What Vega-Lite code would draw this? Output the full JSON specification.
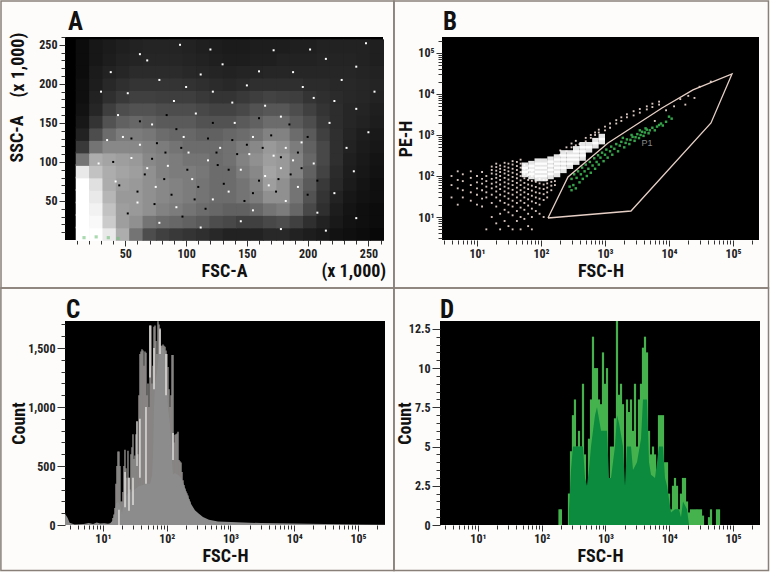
{"$schema":"https://vega.github.io/schema/vega-lite/v6.json","background":"#fdfcfb","padding":0,"bounds":"flush","spacing":284,
"config":{"view":{"fill":"#000000","stroke":null},"axis":{"domain":false,"grid":false,"tickColor":"#333333","labelColor":"#222222","titleColor":"#111111","labelFont":"Roboto Condensed, DejaVu Sans Condensed, Liberation Sans","titleFont":"Roboto Condensed, DejaVu Sans Condensed, Liberation Sans","labelFontWeight":"bold","titleFontWeight":"bold","labelFontSize":12,"titleFontSize":18,"labelOverlap":false,"labelBound":false,"labelFlush":false}},
"vconcat":[
{"hconcat":[
{"width":318,"height":203,
"encoding":{"x":{"field":"x","type":"quantitative","title":"FSC-A","scale":{"domain":[0.354,262],"nice":false,"zero":false},"axis":{"values":[10,20,30,40,50,60,70,80,90,100,110,120,130,140,150,160,170,180,190,200,210,220,230,240,250,260],"labelExpr":"datum.value%50===0?datum.label:''","tickSize":{"condition":{"test":"datum.value%50===0","value":6},"value":4},"titleY":22}},
"y":{"field":"y","type":"quantitative","title":"SSC-A","scale":{"domain":[0,260],"nice":false,"zero":false},"axis":{"values":[10,20,30,40,50,60,70,80,90,100,110,120,130,140,150,160,170,180,190,200,210,220,230,240,250,260],"labelExpr":"datum.value%50===0?datum.label:''","tickSize":{"condition":{"test":"datum.value%50===0","value":6},"value":4},"titleX":-39}}},
"layer":[
{"data":{"values":[{"x":15,"y":8,"v":95},{"x":26,"y":8,"v":92},{"x":37,"y":8,"v":85},{"x":48,"y":8,"v":65},{"x":59,"y":8,"v":45},{"x":70,"y":8,"v":30},{"x":81,"y":8,"v":25},{"x":92,"y":8,"v":22},{"x":103,"y":8,"v":20},{"x":114,"y":8,"v":18},{"x":125,"y":8,"v":15},{"x":136,"y":8,"v":12},{"x":147,"y":8,"v":12},{"x":158,"y":8,"v":12},{"x":169,"y":8,"v":15},{"x":180,"y":8,"v":15},{"x":191,"y":8,"v":12},{"x":202,"y":8,"v":10},{"x":213,"y":8,"v":8},{"x":224,"y":8,"v":5},{"x":235,"y":8,"v":4},{"x":246,"y":8,"v":3},{"x":257,"y":8,"v":2},
{"x":15,"y":24,"v":98},{"x":26,"y":24,"v":90},{"x":37,"y":24,"v":75},{"x":48,"y":24,"v":60},{"x":59,"y":24,"v":55},{"x":70,"y":24,"v":45},{"x":81,"y":24,"v":42},{"x":92,"y":24,"v":40},{"x":103,"y":24,"v":38},{"x":114,"y":24,"v":35},{"x":125,"y":24,"v":30},{"x":136,"y":24,"v":28},{"x":147,"y":24,"v":25},{"x":158,"y":24,"v":25},{"x":169,"y":24,"v":28},{"x":180,"y":24,"v":30},{"x":191,"y":24,"v":25},{"x":202,"y":24,"v":18},{"x":213,"y":24,"v":12},{"x":224,"y":24,"v":8},{"x":235,"y":24,"v":5},{"x":246,"y":24,"v":4},{"x":257,"y":24,"v":3},
{"x":15,"y":40,"v":100},{"x":26,"y":40,"v":88},{"x":37,"y":40,"v":72},{"x":48,"y":40,"v":60},{"x":59,"y":40,"v":58},{"x":70,"y":40,"v":55},{"x":81,"y":40,"v":50},{"x":92,"y":40,"v":48},{"x":103,"y":40,"v":45},{"x":114,"y":40,"v":42},{"x":125,"y":40,"v":40},{"x":136,"y":40,"v":38},{"x":147,"y":40,"v":38},{"x":158,"y":40,"v":40},{"x":169,"y":40,"v":45},{"x":180,"y":40,"v":48},{"x":191,"y":40,"v":40},{"x":202,"y":40,"v":28},{"x":213,"y":40,"v":18},{"x":224,"y":40,"v":10},{"x":235,"y":40,"v":6},{"x":246,"y":40,"v":4},{"x":257,"y":40,"v":3},
{"x":15,"y":56,"v":100},{"x":26,"y":56,"v":85},{"x":37,"y":56,"v":68},{"x":48,"y":56,"v":58},{"x":59,"y":56,"v":58},{"x":70,"y":56,"v":55},{"x":81,"y":56,"v":52},{"x":92,"y":56,"v":50},{"x":103,"y":56,"v":48},{"x":114,"y":56,"v":45},{"x":125,"y":56,"v":42},{"x":136,"y":56,"v":42},{"x":147,"y":56,"v":45},{"x":158,"y":56,"v":48},{"x":169,"y":56,"v":55},{"x":180,"y":56,"v":55},{"x":191,"y":56,"v":45},{"x":202,"y":56,"v":32},{"x":213,"y":56,"v":20},{"x":224,"y":56,"v":12},{"x":235,"y":56,"v":7},{"x":246,"y":56,"v":5},{"x":257,"y":56,"v":4},
{"x":15,"y":72,"v":100},{"x":26,"y":72,"v":82},{"x":37,"y":72,"v":65},{"x":48,"y":72,"v":60},{"x":59,"y":72,"v":58},{"x":70,"y":72,"v":55},{"x":81,"y":72,"v":52},{"x":92,"y":72,"v":50},{"x":103,"y":72,"v":48},{"x":114,"y":72,"v":45},{"x":125,"y":72,"v":42},{"x":136,"y":72,"v":42},{"x":147,"y":72,"v":45},{"x":158,"y":72,"v":50},{"x":169,"y":72,"v":60},{"x":180,"y":72,"v":55},{"x":191,"y":72,"v":45},{"x":202,"y":72,"v":35},{"x":213,"y":72,"v":22},{"x":224,"y":72,"v":15},{"x":235,"y":72,"v":9},{"x":246,"y":72,"v":6},{"x":257,"y":72,"v":4},
{"x":15,"y":88,"v":85},{"x":26,"y":88,"v":72},{"x":37,"y":88,"v":65},{"x":48,"y":88,"v":62},{"x":59,"y":88,"v":60},{"x":70,"y":88,"v":55},{"x":81,"y":88,"v":50},{"x":92,"y":88,"v":48},{"x":103,"y":88,"v":48},{"x":114,"y":88,"v":46},{"x":125,"y":88,"v":42},{"x":136,"y":88,"v":42},{"x":147,"y":88,"v":48},{"x":158,"y":88,"v":52},{"x":169,"y":88,"v":62},{"x":180,"y":88,"v":58},{"x":191,"y":88,"v":50},{"x":202,"y":88,"v":38},{"x":213,"y":88,"v":26},{"x":224,"y":88,"v":16},{"x":235,"y":88,"v":10},{"x":246,"y":88,"v":7},{"x":257,"y":88,"v":5},
{"x":15,"y":104,"v":45},{"x":26,"y":104,"v":65},{"x":37,"y":104,"v":62},{"x":48,"y":104,"v":60},{"x":59,"y":104,"v":58},{"x":70,"y":104,"v":52},{"x":81,"y":104,"v":50},{"x":92,"y":104,"v":48},{"x":103,"y":104,"v":45},{"x":114,"y":104,"v":45},{"x":125,"y":104,"v":42},{"x":136,"y":104,"v":44},{"x":147,"y":104,"v":50},{"x":158,"y":104,"v":55},{"x":169,"y":104,"v":60},{"x":180,"y":104,"v":58},{"x":191,"y":104,"v":50},{"x":202,"y":104,"v":40},{"x":213,"y":104,"v":28},{"x":224,"y":104,"v":18},{"x":235,"y":104,"v":11},{"x":246,"y":104,"v":8},{"x":257,"y":104,"v":6},
{"x":15,"y":120,"v":22},{"x":26,"y":120,"v":45},{"x":37,"y":120,"v":52},{"x":48,"y":120,"v":52},{"x":59,"y":120,"v":52},{"x":70,"y":120,"v":50},{"x":81,"y":120,"v":48},{"x":92,"y":120,"v":45},{"x":103,"y":120,"v":42},{"x":114,"y":120,"v":42},{"x":125,"y":120,"v":42},{"x":136,"y":120,"v":44},{"x":147,"y":120,"v":48},{"x":158,"y":120,"v":52},{"x":169,"y":120,"v":58},{"x":180,"y":120,"v":55},{"x":191,"y":120,"v":48},{"x":202,"y":120,"v":38},{"x":213,"y":120,"v":28},{"x":224,"y":120,"v":18},{"x":235,"y":120,"v":12},{"x":246,"y":120,"v":9},{"x":257,"y":120,"v":7},
{"x":15,"y":136,"v":12},{"x":26,"y":136,"v":30},{"x":37,"y":136,"v":42},{"x":48,"y":136,"v":48},{"x":59,"y":136,"v":48},{"x":70,"y":136,"v":46},{"x":81,"y":136,"v":42},{"x":92,"y":136,"v":40},{"x":103,"y":136,"v":40},{"x":114,"y":136,"v":38},{"x":125,"y":136,"v":38},{"x":136,"y":136,"v":40},{"x":147,"y":136,"v":42},{"x":158,"y":136,"v":45},{"x":169,"y":136,"v":50},{"x":180,"y":136,"v":50},{"x":191,"y":136,"v":42},{"x":202,"y":136,"v":35},{"x":213,"y":136,"v":25},{"x":224,"y":136,"v":18},{"x":235,"y":136,"v":13},{"x":246,"y":136,"v":10},{"x":257,"y":136,"v":8},
{"x":15,"y":152,"v":7},{"x":26,"y":152,"v":20},{"x":37,"y":152,"v":32},{"x":48,"y":152,"v":38},{"x":59,"y":152,"v":40},{"x":70,"y":152,"v":38},{"x":81,"y":152,"v":35},{"x":92,"y":152,"v":35},{"x":103,"y":152,"v":35},{"x":114,"y":152,"v":32},{"x":125,"y":152,"v":32},{"x":136,"y":152,"v":32},{"x":147,"y":152,"v":35},{"x":158,"y":152,"v":38},{"x":169,"y":152,"v":42},{"x":180,"y":152,"v":42},{"x":191,"y":152,"v":35},{"x":202,"y":152,"v":30},{"x":213,"y":152,"v":22},{"x":224,"y":152,"v":17},{"x":235,"y":152,"v":14},{"x":246,"y":152,"v":12},{"x":257,"y":152,"v":10},
{"x":15,"y":168,"v":5},{"x":26,"y":168,"v":14},{"x":37,"y":168,"v":24},{"x":48,"y":168,"v":30},{"x":59,"y":168,"v":32},{"x":70,"y":168,"v":32},{"x":81,"y":168,"v":30},{"x":92,"y":168,"v":30},{"x":103,"y":168,"v":30},{"x":114,"y":168,"v":28},{"x":125,"y":168,"v":26},{"x":136,"y":168,"v":26},{"x":147,"y":168,"v":28},{"x":158,"y":168,"v":32},{"x":169,"y":168,"v":34},{"x":180,"y":168,"v":34},{"x":191,"y":168,"v":30},{"x":202,"y":168,"v":25},{"x":213,"y":168,"v":20},{"x":224,"y":168,"v":17},{"x":235,"y":168,"v":14},{"x":246,"y":168,"v":13},{"x":257,"y":168,"v":11},
{"x":15,"y":184,"v":4},{"x":26,"y":184,"v":12},{"x":37,"y":184,"v":18},{"x":48,"y":184,"v":22},{"x":59,"y":184,"v":25},{"x":70,"y":184,"v":25},{"x":81,"y":184,"v":24},{"x":92,"y":184,"v":24},{"x":103,"y":184,"v":24},{"x":114,"y":184,"v":22},{"x":125,"y":184,"v":20},{"x":136,"y":184,"v":20},{"x":147,"y":184,"v":22},{"x":158,"y":184,"v":24},{"x":169,"y":184,"v":26},{"x":180,"y":184,"v":25},{"x":191,"y":184,"v":24},{"x":202,"y":184,"v":20},{"x":213,"y":184,"v":18},{"x":224,"y":184,"v":16},{"x":235,"y":184,"v":15},{"x":246,"y":184,"v":14},{"x":257,"y":184,"v":12},
{"x":15,"y":200,"v":4},{"x":26,"y":200,"v":10},{"x":37,"y":200,"v":15},{"x":48,"y":200,"v":18},{"x":59,"y":200,"v":20},{"x":70,"y":200,"v":20},{"x":81,"y":200,"v":20},{"x":92,"y":200,"v":20},{"x":103,"y":200,"v":19},{"x":114,"y":200,"v":18},{"x":125,"y":200,"v":16},{"x":136,"y":200,"v":15},{"x":147,"y":200,"v":16},{"x":158,"y":200,"v":18},{"x":169,"y":200,"v":18},{"x":180,"y":200,"v":18},{"x":191,"y":200,"v":18},{"x":202,"y":200,"v":16},{"x":213,"y":200,"v":16},{"x":224,"y":200,"v":15},{"x":235,"y":200,"v":15},{"x":246,"y":200,"v":14},{"x":257,"y":200,"v":13},
{"x":15,"y":216,"v":3},{"x":26,"y":216,"v":9},{"x":37,"y":216,"v":12},{"x":48,"y":216,"v":14},{"x":59,"y":216,"v":16},{"x":70,"y":216,"v":16},{"x":81,"y":216,"v":16},{"x":92,"y":216,"v":16},{"x":103,"y":216,"v":15},{"x":114,"y":216,"v":14},{"x":125,"y":216,"v":13},{"x":136,"y":216,"v":12},{"x":147,"y":216,"v":13},{"x":158,"y":216,"v":13},{"x":169,"y":216,"v":14},{"x":180,"y":216,"v":14},{"x":191,"y":216,"v":14},{"x":202,"y":216,"v":14},{"x":213,"y":216,"v":14},{"x":224,"y":216,"v":14},{"x":235,"y":216,"v":14},{"x":246,"y":216,"v":13},{"x":257,"y":216,"v":12},
{"x":15,"y":232,"v":3},{"x":26,"y":232,"v":7},{"x":37,"y":232,"v":10},{"x":48,"y":232,"v":12},{"x":59,"y":232,"v":13},{"x":70,"y":232,"v":14},{"x":81,"y":232,"v":14},{"x":92,"y":232,"v":14},{"x":103,"y":232,"v":13},{"x":114,"y":232,"v":12},{"x":125,"y":232,"v":11},{"x":136,"y":232,"v":10},{"x":147,"y":232,"v":10},{"x":158,"y":232,"v":11},{"x":169,"y":232,"v":11},{"x":180,"y":232,"v":12},{"x":191,"y":232,"v":12},{"x":202,"y":232,"v":12},{"x":213,"y":232,"v":13},{"x":224,"y":232,"v":13},{"x":235,"y":232,"v":13},{"x":246,"y":232,"v":12},{"x":257,"y":232,"v":11},
{"x":15,"y":248,"v":3},{"x":26,"y":248,"v":7},{"x":37,"y":248,"v":9},{"x":48,"y":248,"v":11},{"x":59,"y":248,"v":12},{"x":70,"y":248,"v":13},{"x":81,"y":248,"v":13},{"x":92,"y":248,"v":13},{"x":103,"y":248,"v":12},{"x":114,"y":248,"v":11},{"x":125,"y":248,"v":10},{"x":136,"y":248,"v":9},{"x":147,"y":248,"v":9},{"x":158,"y":248,"v":10},{"x":169,"y":248,"v":10},{"x":180,"y":248,"v":10},{"x":191,"y":248,"v":11},{"x":202,"y":248,"v":11},{"x":213,"y":248,"v":12},{"x":224,"y":248,"v":12},{"x":235,"y":248,"v":12},{"x":246,"y":248,"v":12},{"x":257,"y":248,"v":11}]},
"mark":{"type":"point","shape":"square","filled":true,"size":200,"opacity":1,"strokeWidth":0},"encoding":{"color":{"field":"v","type":"quantitative","legend":null,"scale":{"domain":[0,92],"clamp":true,"range":["#000000","#ffffff"]}}}},
{"data":{"values":[{"x":45,"y":70},{"x":52,"y":34},{"x":66,"y":84},{"x":74,"y":46},{"x":83,"y":112},{"x":88,"y":58},{"x":97,"y":30},{"x":101,"y":90},{"x":110,"y":68},{"x":116,"y":40},{"x":126,"y":96},{"x":131,"y":72},{"x":142,"y":110},{"x":148,"y":50},{"x":160,"y":76},{"x":163,"y":118},{"x":174,"y":62},{"x":186,"y":84},{"x":192,"y":112},{"x":200,"y":58},{"x":55,"y":130},{"x":76,"y":124},{"x":92,"y":142},{"x":118,"y":130},{"x":138,"y":128},{"x":170,"y":134},{"x":200,"y":132},{"x":62,"y":152},{"x":84,"y":160},{"x":122,"y":150},{"x":160,"y":156},{"x":185,"y":148},{"x":40,"y":100},{"x":60,"y":62},{"x":82,"y":78},{"x":107,"y":52},{"x":135,"y":90},{"x":155,"y":60},{"x":178,"y":106},{"x":195,"y":92},{"x":72,"y":104},{"x":96,"y":118},{"x":125,"y":112},{"x":150,"y":122},{"x":176,"y":78},{"x":208,"y":76}]},
"mark":{"type":"point","shape":"square","filled":true,"size":4,"opacity":1,"color":"#000000","strokeWidth":0}},
{"data":{"values":[{"x":62,"y":238},{"x":95,"y":250},{"x":130,"y":225},{"x":172,"y":243},{"x":215,"y":232},{"x":248,"y":252},{"x":38,"y":215},{"x":78,"y":205},{"x":112,"y":212},{"x":150,"y":198},{"x":188,"y":215},{"x":228,"y":205},{"x":255,"y":190},{"x":52,"y":188},{"x":90,"y":178},{"x":122,"y":190},{"x":165,"y":172},{"x":205,"y":182},{"x":240,"y":168},{"x":44,"y":160},{"x":72,"y":148},{"x":108,"y":162},{"x":140,"y":150},{"x":178,"y":158},{"x":218,"y":150},{"x":250,"y":138},{"x":35,"y":128},{"x":62,"y":122},{"x":98,"y":132},{"x":128,"y":118},{"x":155,"y":132},{"x":195,"y":125},{"x":232,"y":118},{"x":28,"y":98},{"x":55,"y":105},{"x":85,"y":95},{"x":118,"y":102},{"x":145,"y":90},{"x":172,"y":108},{"x":205,"y":98},{"x":238,"y":88},{"x":42,"y":75},{"x":75,"y":68},{"x":105,"y":78},{"x":135,"y":62},{"x":165,"y":82},{"x":192,"y":68},{"x":222,"y":60},{"x":60,"y":48},{"x":92,"y":42},{"x":122,"y":52},{"x":155,"y":38},{"x":182,"y":50},{"x":208,"y":35},{"x":240,"y":28},{"x":78,"y":22},{"x":112,"y":16},{"x":145,"y":24},{"x":178,"y":14},{"x":215,"y":12},{"x":182,"y":118},{"x":178,"y":92},{"x":168,"y":70},{"x":188,"y":102},{"x":48,"y":132},{"x":68,"y":92},{"x":102,"y":112},{"x":152,"y":110},{"x":68,"y":230},{"x":120,"y":244},{"x":160,"y":216},{"x":202,"y":244},{"x":240,"y":222},{"x":30,"y":190},{"x":100,"y":196},{"x":138,"y":176},{"x":196,"y":196},{"x":222,"y":178}]},
"mark":{"type":"point","shape":"square","filled":true,"size":4,"opacity":1,"color":"#ffffff","strokeWidth":0}},
{"data":{"values":[{"x":16,"y":3},{"x":26,"y":4},{"x":36,"y":3},{"x":44,"y":2}]},"mark":{"type":"point","shape":"square","filled":true,"size":10,"opacity":0.6,"color":"#6fbf7a","strokeWidth":0}},
{"data":{"values":[{"x":-52.3,"x2":271,"y":306,"y2":-61.5}]},"mark":{"type":"rect","fillOpacity":0,"stroke":"#8a807a","strokeWidth":1.5,"clip":false},"encoding":{"x2":{"field":"x2"},"y2":{"field":"y2"}}},
{"data":{"values":[{"x":2.8,"y":269,"t":"A"}]},"mark":{"type":"text","align":"left","baseline":"alphabetic","font":"Roboto Condensed, DejaVu Sans Condensed, Liberation Sans","fontWeight":"bold","fontSize":25,"color":"#111111","clip":false},"encoding":{"text":{"field":"t"}}},
{"data":{"values":[{"x":238,"y":-41,"t":"(x 1,000)"}]},"mark":{"type":"text","font":"Roboto Condensed, DejaVu Sans Condensed, Liberation Sans","fontWeight":"bold","fontSize":18,"color":"#111111","clip":false},"encoding":{"text":{"field":"t"}}},
{"data":{"values":[{"x":-37.5,"y":224,"t":"(x 1,000)"}]},"mark":{"type":"text","angle":270,"font":"Roboto Condensed, DejaVu Sans Condensed, Liberation Sans","fontWeight":"bold","fontSize":18,"color":"#111111","clip":false},"encoding":{"text":{"field":"t"}}}
]},
{"width":317,"height":203,
"encoding":{"x":{"field":"x","type":"quantitative","title":"FSC-H","scale":{"type":"log","domain":[2.84,254800],"nice":false},"axis":{"values":[3,4,5,6,7,8,9,10,20,30,40,50,60,70,80,90,100,200,300,400,500,600,700,800,900,1000,2000,3000,4000,5000,6000,7000,8000,9000,10000,20000,30000,40000,50000,60000,70000,80000,90000,100000,200000],"labelExpr":"{'10':'10¹','100':'10²','1000':'10³','10000':'10⁴','100000':'10⁵'}[''+datum.value]||''","tickSize":{"condition":{"test":"indexof([10,100,1000,10000,100000],datum.value)>=0","value":6},"value":4},"titleY":22}},
"y":{"field":"y","type":"quantitative","title":"PE-H","scale":{"type":"log","domain":[2.75,245000],"nice":false},"axis":{"values":[3,4,5,6,7,8,9,10,20,30,40,50,60,70,80,90,100,200,300,400,500,600,700,800,900,1000,2000,3000,4000,5000,6000,7000,8000,9000,10000,20000,30000,40000,50000,60000,70000,80000,90000,100000,200000],"labelExpr":"{'10':'10¹','100':'10²','1000':'10³','10000':'10⁴','100000':'10⁵'}[''+datum.value]||''","tickSize":{"condition":{"test":"indexof([10,100,1000,10000,100000],datum.value)>=0","value":6},"value":4},"titleX":-27}}},
"layer":[
{"data":{"values":[{"x":4,"y":30},{"x":4,"y":60},{"x":4,"y":100},{"x":5,"y":20},{"x":5,"y":50},{"x":5,"y":80},{"x":5,"y":130},{"x":6,"y":30},{"x":6,"y":45},{"x":6,"y":75},{"x":6,"y":110},{"x":8,"y":25},{"x":8,"y":40},{"x":8,"y":60},{"x":8,"y":90},{"x":8,"y":130},{"x":10,"y":20},{"x":10,"y":35},{"x":10,"y":50},{"x":10,"y":70},{"x":10,"y":100},{"x":12,"y":18},{"x":12,"y":28},{"x":12,"y":45},{"x":12,"y":65},{"x":12,"y":85},{"x":12,"y":125},{"x":14,"y":5},{"x":14,"y":30},{"x":14,"y":40},{"x":14,"y":55},{"x":14,"y":75},{"x":14,"y":100},{"x":17,"y":10},{"x":17,"y":22},{"x":17,"y":35},{"x":17,"y":50},{"x":17,"y":65},{"x":17,"y":85},{"x":17,"y":115},{"x":17,"y":140},{"x":17,"y":170},{"x":20,"y":7},{"x":20,"y":18},{"x":20,"y":30},{"x":20,"y":42},{"x":20,"y":55},{"x":20,"y":70},{"x":20,"y":90},{"x":20,"y":110},{"x":20,"y":135},{"x":20,"y":165},{"x":20,"y":200},{"x":23,"y":5},{"x":23,"y":12},{"x":23,"y":25},{"x":23,"y":35},{"x":23,"y":48},{"x":23,"y":62},{"x":23,"y":80},{"x":23,"y":100},{"x":23,"y":125},{"x":23,"y":150},{"x":23,"y":180},{"x":27,"y":8},{"x":27,"y":15},{"x":27,"y":22},{"x":27,"y":32},{"x":27,"y":42},{"x":27,"y":55},{"x":27,"y":70},{"x":27,"y":90},{"x":27,"y":115},{"x":27,"y":140},{"x":27,"y":170},{"x":27,"y":210},{"x":31,"y":6},{"x":31,"y":13},{"x":31,"y":20},{"x":31,"y":28},{"x":31,"y":38},{"x":31,"y":50},{"x":31,"y":65},{"x":31,"y":82},{"x":31,"y":105},{"x":31,"y":130},{"x":31,"y":160},{"x":31,"y":200},{"x":36,"y":5},{"x":36,"y":11},{"x":36,"y":18},{"x":36,"y":25},{"x":36,"y":35},{"x":36,"y":46},{"x":36,"y":60},{"x":36,"y":75},{"x":36,"y":95},{"x":36,"y":120},{"x":36,"y":150},{"x":36,"y":190},{"x":36,"y":230},{"x":42,"y":8},{"x":42,"y":14},{"x":42,"y":22},{"x":42,"y":30},{"x":42,"y":40},{"x":42,"y":52},{"x":42,"y":68},{"x":42,"y":88},{"x":42,"y":110},{"x":42,"y":140},{"x":42,"y":175},{"x":42,"y":220},{"x":48,"y":5},{"x":48,"y":10},{"x":48,"y":17},{"x":48,"y":25},{"x":48,"y":35},{"x":48,"y":45},{"x":48,"y":60},{"x":48,"y":78},{"x":48,"y":100},{"x":48,"y":125},{"x":48,"y":160},{"x":48,"y":200},{"x":48,"y":250},{"x":55,"y":9},{"x":55,"y":15},{"x":55,"y":22},{"x":55,"y":30},{"x":55,"y":40},{"x":55,"y":52},{"x":55,"y":68},{"x":55,"y":88},{"x":55,"y":112},{"x":55,"y":145},{"x":55,"y":185},{"x":63,"y":6},{"x":63,"y":12},{"x":63,"y":19},{"x":63,"y":27},{"x":63,"y":36},{"x":63,"y":48},{"x":63,"y":62},{"x":63,"y":80},{"x":63,"y":105},{"x":63,"y":135},{"x":72,"y":5},{"x":72,"y":10},{"x":72,"y":16},{"x":72,"y":24},{"x":72,"y":33},{"x":72,"y":44},{"x":72,"y":58},{"x":72,"y":76},{"x":72,"y":100},{"x":72,"y":130},{"x":83,"y":14},{"x":83,"y":22},{"x":83,"y":30},{"x":83,"y":40},{"x":83,"y":54},{"x":83,"y":72},{"x":83,"y":95},{"x":95,"y":12},{"x":95,"y":20},{"x":95,"y":28},{"x":95,"y":38},{"x":95,"y":50},{"x":95,"y":66},{"x":95,"y":85},{"x":110,"y":10},{"x":110,"y":26},{"x":110,"y":36},{"x":110,"y":48},{"x":110,"y":62},{"x":110,"y":80},{"x":125,"y":30},{"x":125,"y":40},{"x":125,"y":52},{"x":125,"y":66},{"x":125,"y":80},{"x":145,"y":45},{"x":145,"y":58},{"x":145,"y":72},{"x":165,"y":60},{"x":165,"y":75},{"x":200,"y":330},{"x":200,"y":420},{"x":250,"y":400},{"x":250,"y":500},{"x":300,"y":500},{"x":300,"y":620},{"x":350,"y":560},{"x":350,"y":720},{"x":400,"y":600},{"x":500,"y":700},{"x":500,"y":850},{"x":600,"y":850},{"x":600,"y":1000},{"x":700,"y":1000},{"x":700,"y":1150},{"x":800,"y":1150},{"x":800,"y":1350},{"x":1000,"y":1300},{"x":1000,"y":1600},{"x":1200,"y":1500},{"x":1200,"y":1900},{"x":1500,"y":1900},{"x":1500,"y":2300},{"x":1800,"y":2200},{"x":1800,"y":2700},{"x":2200,"y":2700},{"x":2200,"y":3200},{"x":2800,"y":3000},{"x":2800,"y":3800},{"x":3500,"y":3500},{"x":3500,"y":4300},{"x":4500,"y":4200},{"x":4500,"y":5000},{"x":5500,"y":4800},{"x":5500,"y":5800},{"x":7000,"y":5500},{"x":7000,"y":6500},{"x":6000,"y":2200},{"x":9000,"y":4000},{"x":12000,"y":5000},{"x":15000,"y":7500},{"x":20000,"y":9000},{"x":30000,"y":15000},{"x":18000,"y":5500},{"x":25000,"y":8000},{"x":45000,"y":20000}]},
"mark":{"type":"point","shape":"square","filled":true,"size":3.5,"opacity":0.9,"color":"#efdcd4","strokeWidth":0}},
{"data":{"values":[{"x":56,"y":112},{"x":56,"y":141},{"x":56,"y":178},{"x":71,"y":100},{"x":71,"y":125},{"x":71,"y":158},{"x":71,"y":195},{"x":89,"y":89},{"x":89,"y":112},{"x":89,"y":141},{"x":89,"y":178},{"x":89,"y":224},{"x":112,"y":89},{"x":112,"y":112},{"x":112,"y":141},{"x":112,"y":178},{"x":112,"y":224},{"x":141,"y":100},{"x":141,"y":125},{"x":141,"y":158},{"x":141,"y":200},{"x":141,"y":250},{"x":178,"y":112},{"x":178,"y":141},{"x":178,"y":178},{"x":178,"y":224},{"x":178,"y":282},{"x":224,"y":141},{"x":224,"y":178},{"x":224,"y":224},{"x":224,"y":282},{"x":224,"y":355},{"x":282,"y":178},{"x":282,"y":224},{"x":282,"y":282},{"x":282,"y":355},{"x":355,"y":224},{"x":355,"y":282},{"x":355,"y":355},{"x":355,"y":447},{"x":447,"y":282},{"x":447,"y":355},{"x":447,"y":447},{"x":447,"y":562},{"x":562,"y":447},{"x":562,"y":562},{"x":708,"y":562},{"x":708,"y":708},{"x":891,"y":708},{"x":891,"y":891}]},
"mark":{"type":"point","shape":"square","filled":true,"size":42,"opacity":0.9,"color":"#ffffff","strokeWidth":0}},
{"data":{"values":[{"x":280,"y":55},{"x":300,"y":45},{"x":300,"y":85},{"x":320,"y":60},{"x":330,"y":110},{"x":350,"y":50},{"x":360,"y":90},{"x":380,"y":130},{"x":400,"y":70},{"x":420,"y":110},{"x":440,"y":160},{"x":450,"y":85},{"x":480,"y":130},{"x":500,"y":190},{"x":520,"y":100},{"x":550,"y":150},{"x":580,"y":220},{"x":600,"y":120},{"x":640,"y":180},{"x":680,"y":270},{"x":700,"y":150},{"x":740,"y":220},{"x":780,"y":320},{"x":800,"y":190},{"x":850,"y":280},{"x":900,"y":370},{"x":950,"y":230},{"x":1000,"y":330},{"x":1050,"y":440},{"x":1100,"y":280},{"x":1200,"y":400},{"x":1250,"y":520},{"x":1300,"y":330},{"x":1400,"y":460},{"x":1500,"y":600},{"x":1600,"y":400},{"x":1700,"y":550},{"x":1800,"y":680},{"x":2000,"y":500},{"x":2100,"y":640},{"x":2200,"y":780},{"x":2400,"y":600},{"x":2500,"y":760},{"x":2700,"y":900},{"x":2900,"y":720},{"x":3000,"y":880},{"x":3200,"y":1050},{"x":3400,"y":840},{"x":3600,"y":1000},{"x":3800,"y":1200},{"x":4000,"y":950},{"x":4200,"y":1150},{"x":4500,"y":1350},{"x":4800,"y":1100},{"x":5000,"y":1300},{"x":5500,"y":1500},{"x":6000,"y":1300},{"x":6500,"y":1600},{"x":7000,"y":1750},{"x":7500,"y":1900},{"x":8000,"y":1700},{"x":9000,"y":2100},{"x":10000,"y":2800},{"x":11000,"y":2500},{"x":3500,"y":1300},{"x":4300,"y":1450},{"x":2600,"y":1000},{"x":1900,"y":850}]},
"mark":{"type":"point","shape":"square","filled":true,"size":6,"opacity":1,"color":"#35a34a","strokeWidth":0}},
{"data":{"values":[{"x":128.5,"y":9.46,"o":1},{"x":2547,"y":14,"o":2},{"x":45300,"y":1963,"o":3},{"x":96400,"y":30760,"o":4},{"x":23700,"y":12530,"o":5},{"x":7780,"y":4560,"o":6},{"x":1114,"y":638,"o":7},{"x":264,"y":94.6,"o":8},{"x":128.5,"y":9.46,"o":9}]},
"mark":{"type":"line","color":"#e6cfc5","strokeWidth":1.3},"encoding":{"order":{"field":"o"}}},
{"data":{"values":[{"x":4530,"y":638,"t":"P1"}]},"mark":{"type":"text","font":"Liberation Sans","fontSize":9,"color":"#888888"},"encoding":{"text":{"field":"t"}}},
{"data":{"values":[{"x":2.94,"y":363000,"t":"B"}]},"mark":{"type":"text","align":"left","baseline":"alphabetic","font":"Roboto Condensed, DejaVu Sans Condensed, Liberation Sans","fontWeight":"bold","fontSize":25,"color":"#111111","clip":false},"encoding":{"text":{"field":"t"}}},
{"data":{"values":[{"x":0.505,"x2":358000,"y":1854000,"y2":0.185}]},"mark":{"type":"rect","fillOpacity":0,"stroke":"#8a807a","strokeWidth":1.5,"clip":false},"encoding":{"x2":{"field":"x2"},"y2":{"field":"y2"}}}
]}
],"spacing":59,"bounds":"flush"},
{"hconcat":[
{"width":320,"height":204,
"encoding":{"x":{"field":"x","type":"quantitative","title":"FSC-H","scale":{"type":"log","domain":[2.54,265000],"nice":false,"padding":0},"axis":{"values":[3,4,5,6,7,8,9,10,20,30,40,50,60,70,80,90,100,200,300,400,500,600,700,800,900,1000,2000,3000,4000,5000,6000,7000,8000,9000,10000,20000,30000,40000,50000,60000,70000,80000,90000,100000,200000],"labelExpr":"{'10':'10¹','100':'10²','1000':'10³','10000':'10⁴','100000':'10⁵'}[''+datum.value]||''","tickSize":{"condition":{"test":"indexof([10,100,1000,10000,100000],datum.value)>=0","value":6},"value":4},"titleY":22}},
"y":{"field":"y","type":"quantitative","title":"Count","scale":{"domain":[0,1729],"nice":false,"zero":false},"axis":{"values":[0,100,200,300,400,500,600,700,800,900,1000,1100,1200,1300,1400,1500,1600,1700],"labelExpr":"datum.value%500===0?format(datum.value,','):''","tickSize":{"condition":{"test":"datum.value%500===0","value":8},"value":4},"titleX":-37}}},
"layer":[
{"data":{"values":[{"x":14.35,"y":60},{"x":14.88,"y":90},{"x":15.43,"y":144},{"x":16,"y":350},{"x":16.59,"y":500},{"x":17.2,"y":624},{"x":17.83,"y":624},{"x":18.49,"y":500},{"x":19.17,"y":200},{"x":19.87,"y":200},{"x":20.6,"y":280},{"x":21.36,"y":500},{"x":22.15,"y":638},{"x":22.96,"y":480},{"x":23.81,"y":400},{"x":24.69,"y":630},{"x":25.59,"y":400},{"x":26.54,"y":300},{"x":27.51,"y":600},{"x":28.53,"y":660},{"x":29.58,"y":770},{"x":30.66,"y":560},{"x":31.79,"y":590},{"x":32.96,"y":770},{"x":34.18,"y":500},{"x":35.43,"y":600},{"x":36.74,"y":1100},{"x":38.09,"y":1450},{"x":39.49,"y":1470},{"x":40.94,"y":1490},{"x":42.45,"y":1480},{"x":44.01,"y":1350},{"x":45.63,"y":1470},{"x":47.31,"y":1460},{"x":49.05,"y":1100},{"x":50.85,"y":1200},{"x":52.72,"y":1000},{"x":54.66,"y":1690},{"x":56.67,"y":1690},{"x":58.76,"y":1200},{"x":60.92,"y":1350},{"x":63.16,"y":1680},{"x":65.49,"y":1690},{"x":67.9,"y":1560},{"x":70.4,"y":1450},{"x":72.98,"y":1726},{"x":75.67,"y":1700},{"x":78.45,"y":1669},{"x":81.34,"y":1520},{"x":84.33,"y":1520},{"x":87.43,"y":1530},{"x":90.65,"y":1520},{"x":93.99,"y":1510},{"x":97.45,"y":1480},{"x":101,"y":1450},{"x":104.7,"y":1340},{"x":108.6,"y":1150},{"x":112.6,"y":1000},{"x":116.7,"y":1100},{"x":121,"y":1440},{"x":125.5,"y":1440},{"x":130.1,"y":700},{"x":134.9,"y":765},{"x":139.9,"y":770},{"x":145,"y":775},{"x":150.3,"y":790},{"x":155.9,"y":550},{"x":161.6,"y":540},{"x":167.6,"y":530},{"x":173.7,"y":450},{"x":180.1,"y":380},{"x":186.5,"y":340},{"x":193.4,"y":310},{"x":200.5,"y":285},{"x":207.8,"y":270},{"x":215.4,"y":250},{"x":223.3,"y":220},{"x":231.5,"y":200}]},
"mark":{"type":"bar","size":1.3,"orient":"vertical","color":"#9a9896"}},
{"data":{"values":[{"x":2.54,"y":95},{"x":2.8,"y":60},{"x":3,"y":20},{"x":3.6,"y":5},{"x":5,"y":8},{"x":6,"y":18},{"x":7,"y":8},{"x":8,"y":22},{"x":9,"y":12},{"x":10.5,"y":15},{"x":12,"y":10},{"x":13,"y":15},{"x":14.35,"y":40},{"x":15.4,"y":100},{"x":16,"y":180},{"x":17.2,"y":200},{"x":18.5,"y":170},{"x":19.9,"y":100},{"x":21.4,"y":200},{"x":23.8,"y":260},{"x":29.6,"y":290},{"x":36.7,"y":330},{"x":42.5,"y":340},{"x":49,"y":350},{"x":54.7,"y":350},{"x":58.8,"y":420},{"x":60.9,"y":600},{"x":63.2,"y":1000},{"x":65.5,"y":1200},{"x":70.4,"y":1300},{"x":75.7,"y":1450},{"x":81.3,"y":1500},{"x":90.6,"y":1500},{"x":97.5,"y":1300},{"x":104.7,"y":1000},{"x":112.6,"y":850},{"x":116.7,"y":700},{"x":121,"y":560},{"x":125.5,"y":430},{"x":134.9,"y":440},{"x":155.9,"y":420},{"x":167.6,"y":400},{"x":180.1,"y":360},{"x":207.8,"y":260},{"x":240,"y":180},{"x":277,"y":125},{"x":320,"y":95},{"x":370,"y":68},{"x":460,"y":45},{"x":637,"y":30},{"x":1000,"y":25},{"x":3000,"y":16},{"x":10000,"y":12},{"x":30000,"y":8},{"x":100000,"y":5},{"x":265000,"y":3}]},
"mark":{"type":"area","color":"#8c8c8c","interpolate":"linear"}},
{"data":{"values":[{"x":17.83,"y":0,"y2":130},{"x":22.2,"y":150,"y2":450},{"x":25.6,"y":120,"y2":400},{"x":29.6,"y":170,"y2":400},{"x":34.2,"y":500,"y2":880},{"x":38,"y":400,"y2":900},{"x":47.3,"y":350,"y2":1000},{"x":54.7,"y":1250,"y2":1690},{"x":63.2,"y":1150,"y2":1500},{"x":78.5,"y":1450,"y2":1660},{"x":97.5,"y":1100,"y2":1450},{"x":125.5,"y":550,"y2":780}]},
"mark":{"type":"rule","color":"#e4e2e0","strokeWidth":1.4},"encoding":{"y2":{"field":"y2"}}},
{"data":{"values":[{"x":2.63,"y":1754,"t":"C"}]},"mark":{"type":"text","align":"left","baseline":"alphabetic","font":"Roboto Condensed, DejaVu Sans Condensed, Liberation Sans","fontWeight":"bold","fontSize":25,"color":"#111111","clip":false},"encoding":{"text":{"field":"t"}}},
{"data":{"values":[{"x":0.251,"x2":367000,"y":2008,"y2":-386}]},"mark":{"type":"rect","fillOpacity":0,"stroke":"#8a807a","strokeWidth":1.5,"clip":false},"encoding":{"x2":{"field":"x2"},"y2":{"field":"y2"}}}
]},
{"width":320,"height":204,
"encoding":{"x":{"field":"x","type":"quantitative","title":"FSC-H","scale":{"type":"log","domain":[2.54,265000],"nice":false,"padding":0},"axis":{"values":[3,4,5,6,7,8,9,10,20,30,40,50,60,70,80,90,100,200,300,400,500,600,700,800,900,1000,2000,3000,4000,5000,6000,7000,8000,9000,10000,20000,30000,40000,50000,60000,70000,80000,90000,100000,200000],"labelExpr":"{'10':'10¹','100':'10²','1000':'10³','10000':'10⁴','100000':'10⁵'}[''+datum.value]||''","tickSize":{"condition":{"test":"indexof([10,100,1000,10000,100000],datum.value)>=0","value":6},"value":4},"titleY":22}},
"y":{"field":"y","type":"quantitative","title":"Count","scale":{"domain":[0,13],"nice":false,"zero":false},"axis":{"values":[0,0.5,1,1.5,2,2.5,3,3.5,4,4.5,5,5.5,6,6.5,7,7.5,8,8.5,9,9.5,10,10.5,11,11.5,12,12.5],"labelExpr":"datum.value%2.5===0?''+datum.value:''","tickSize":{"condition":{"test":"datum.value%2.5===0","value":8},"value":4},"titleX":-26}}},
"layer":[
{"data":{"values":[{"x":190,"y":1},{"x":200,"y":1},{"x":268,"y":2},{"x":288,"y":4.7},{"x":309,"y":7},{"x":332,"y":8},{"x":357,"y":5},{"x":384,"y":6},{"x":413,"y":5},{"x":444,"y":9},{"x":477,"y":4.5},{"x":513,"y":2.2},{"x":551,"y":5.5},{"x":593,"y":8},{"x":637,"y":12},{"x":685,"y":10},{"x":736,"y":10},{"x":791,"y":8},{"x":851,"y":7.7},{"x":914,"y":11},{"x":983,"y":9},{"x":1056,"y":10},{"x":1135,"y":2.2},{"x":1220,"y":5},{"x":1312,"y":5},{"x":1410,"y":6.8},{"x":1515,"y":13},{"x":1629,"y":8.3},{"x":1751,"y":9},{"x":1882,"y":7.7},{"x":2023,"y":2.2},{"x":2175,"y":8},{"x":2338,"y":7.2},{"x":2513,"y":8},{"x":2701,"y":6},{"x":2903,"y":9},{"x":3121,"y":5},{"x":3354,"y":8},{"x":3606,"y":9},{"x":3876,"y":11.3},{"x":4166,"y":12},{"x":4478,"y":11},{"x":4814,"y":6},{"x":5174,"y":4.5},{"x":5562,"y":5},{"x":5979,"y":4.5},{"x":6426,"y":3.2},{"x":6908,"y":7},{"x":7425,"y":7},{"x":7981,"y":7},{"x":8579,"y":4},{"x":9222,"y":4},{"x":9913,"y":2},{"x":10655,"y":1},{"x":11453,"y":2.5},{"x":12311,"y":3},{"x":13233,"y":2.5},{"x":14224,"y":1},{"x":15289,"y":2},{"x":16435,"y":3},{"x":17665,"y":3},{"x":18988,"y":1.5},{"x":20410,"y":0.8},{"x":21939,"y":1},{"x":23582,"y":1},{"x":25348,"y":1},{"x":27247,"y":1},{"x":29288,"y":1},{"x":31481,"y":1},{"x":33839,"y":0.6},{"x":42026,"y":0.5},{"x":45174,"y":1},{"x":56103,"y":1},{"x":60305,"y":1}]},
"mark":{"type":"bar","size":2.2,"orient":"vertical","color":"#45b24e"}},
{"data":{"values":[{"x":268,"y":1},{"x":288,"y":3.5},{"x":309,"y":5},{"x":384,"y":5},{"x":444,"y":5},{"x":477,"y":3},{"x":513,"y":2.5},{"x":551,"y":3.5},{"x":593,"y":5},{"x":685,"y":7},{"x":736,"y":7.5},{"x":851,"y":6},{"x":1056,"y":6},{"x":1135,"y":3},{"x":1220,"y":3},{"x":1312,"y":4},{"x":1410,"y":5},{"x":1515,"y":7},{"x":1629,"y":6.5},{"x":1882,"y":5},{"x":2023,"y":2.5},{"x":2175,"y":5},{"x":2513,"y":5},{"x":2701,"y":3.5},{"x":3121,"y":4},{"x":3606,"y":5.5},{"x":3876,"y":8},{"x":4478,"y":8},{"x":4814,"y":4},{"x":5174,"y":3.2},{"x":5979,"y":3},{"x":6908,"y":5},{"x":7981,"y":5},{"x":8579,"y":3},{"x":9222,"y":2.5},{"x":10655,"y":0.8},{"x":12311,"y":1},{"x":14224,"y":1},{"x":15289,"y":0.5},{"x":16435,"y":1.5},{"x":18988,"y":1},{"x":20410,"y":0}]},
"mark":{"type":"area","color":"#0c8a3e","interpolate":"linear"}},
{"data":{"values":[{"x":2.54,"y":13.2,"t":"D"}]},"mark":{"type":"text","align":"left","baseline":"alphabetic","font":"Roboto Condensed, DejaVu Sans Condensed, Liberation Sans","fontWeight":"bold","fontSize":25,"color":"#111111","clip":false},"encoding":{"text":{"field":"t"}}},
{"data":{"values":[{"x":0.481,"x2":360000,"y":15.11,"y2":-2.9}]},"mark":{"type":"rect","fillOpacity":0,"stroke":"#8a807a","strokeWidth":1.5,"clip":false},"encoding":{"x2":{"field":"x2"},"y2":{"field":"y2"}}}
]}
],"spacing":55,"bounds":"flush"}
]}
